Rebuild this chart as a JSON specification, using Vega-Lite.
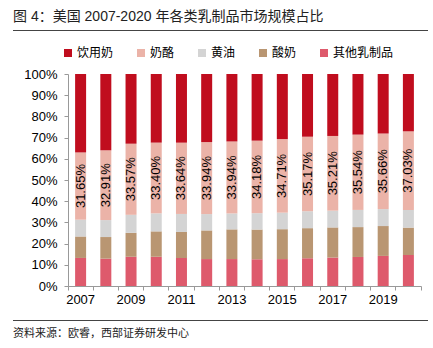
{
  "$schema": "https://vega.github.io/schema/vega-lite/v6.json",
  "autosize": "pad",
  "padding": {"left": 13, "top": 10, "right": 5, "bottom": 5},
  "bounds": "flush",
  "spacing": 34,
  "config": {
    "font": "'Liberation Sans', 'Noto Sans CJK SC', sans-serif",
    "view": {"stroke": null}
  },
  "vconcat": [
    {
      "width": 415,
      "height": 1,
      "view": {"fill": "#444", "stroke": null},
      "title": {"text": "图 4：美国 2007-2020 年各类乳制品市场规模占比", "anchor": "start", "frame": "group", "fontSize": 14, "fontWeight": "normal", "color": "#222", "offset": 6},
      "data": {"values": []},
      "mark": "point"
    },
    {
      "width": 415,
      "height": 221,
      "data": {
        "values": [
          {"year": 2007, "cat": "其他乳制品", "v": 0.132}, {"year": 2007, "cat": "酸奶", "v": 0.101}, {"year": 2007, "cat": "黄油", "v": 0.079}, {"year": 2007, "cat": "奶酪", "v": 0.3165}, {"year": 2007, "cat": "饮用奶", "v": 0.369},
          {"year": 2008, "cat": "其他乳制品", "v": 0.129}, {"year": 2008, "cat": "酸奶", "v": 0.102}, {"year": 2008, "cat": "黄油", "v": 0.080}, {"year": 2008, "cat": "奶酪", "v": 0.3291}, {"year": 2008, "cat": "饮用奶", "v": 0.360},
          {"year": 2009, "cat": "其他乳制品", "v": 0.138}, {"year": 2009, "cat": "酸奶", "v": 0.113}, {"year": 2009, "cat": "黄油", "v": 0.085}, {"year": 2009, "cat": "奶酪", "v": 0.3357}, {"year": 2009, "cat": "饮用奶", "v": 0.329},
          {"year": 2010, "cat": "其他乳制品", "v": 0.138}, {"year": 2010, "cat": "酸奶", "v": 0.120}, {"year": 2010, "cat": "黄油", "v": 0.085}, {"year": 2010, "cat": "奶酪", "v": 0.3340}, {"year": 2010, "cat": "饮用奶", "v": 0.324},
          {"year": 2011, "cat": "其他乳制品", "v": 0.132}, {"year": 2011, "cat": "酸奶", "v": 0.123}, {"year": 2011, "cat": "黄油", "v": 0.085}, {"year": 2011, "cat": "奶酪", "v": 0.3364}, {"year": 2011, "cat": "饮用奶", "v": 0.324},
          {"year": 2012, "cat": "其他乳制品", "v": 0.127}, {"year": 2012, "cat": "酸奶", "v": 0.135}, {"year": 2012, "cat": "黄油", "v": 0.077}, {"year": 2012, "cat": "奶酪", "v": 0.3394}, {"year": 2012, "cat": "饮用奶", "v": 0.321},
          {"year": 2013, "cat": "其他乳制品", "v": 0.127}, {"year": 2013, "cat": "酸奶", "v": 0.140}, {"year": 2013, "cat": "黄油", "v": 0.075}, {"year": 2013, "cat": "奶酪", "v": 0.3394}, {"year": 2013, "cat": "饮用奶", "v": 0.318},
          {"year": 2014, "cat": "其他乳制品", "v": 0.126}, {"year": 2014, "cat": "酸奶", "v": 0.140}, {"year": 2014, "cat": "黄油", "v": 0.077}, {"year": 2014, "cat": "奶酪", "v": 0.3418}, {"year": 2014, "cat": "饮用奶", "v": 0.314},
          {"year": 2015, "cat": "其他乳制品", "v": 0.127}, {"year": 2015, "cat": "酸奶", "v": 0.141}, {"year": 2015, "cat": "黄油", "v": 0.078}, {"year": 2015, "cat": "奶酪", "v": 0.3471}, {"year": 2015, "cat": "饮用奶", "v": 0.307},
          {"year": 2016, "cat": "其他乳制品", "v": 0.131}, {"year": 2016, "cat": "酸奶", "v": 0.142}, {"year": 2016, "cat": "黄油", "v": 0.080}, {"year": 2016, "cat": "奶酪", "v": 0.3517}, {"year": 2016, "cat": "饮用奶", "v": 0.296},
          {"year": 2017, "cat": "其他乳制品", "v": 0.134}, {"year": 2017, "cat": "酸奶", "v": 0.142}, {"year": 2017, "cat": "黄油", "v": 0.079}, {"year": 2017, "cat": "奶酪", "v": 0.3521}, {"year": 2017, "cat": "饮用奶", "v": 0.292},
          {"year": 2018, "cat": "其他乳制品", "v": 0.137}, {"year": 2018, "cat": "酸奶", "v": 0.141}, {"year": 2018, "cat": "黄油", "v": 0.081}, {"year": 2018, "cat": "奶酪", "v": 0.3554}, {"year": 2018, "cat": "饮用奶", "v": 0.286},
          {"year": 2019, "cat": "其他乳制品", "v": 0.142}, {"year": 2019, "cat": "酸奶", "v": 0.141}, {"year": 2019, "cat": "黄油", "v": 0.080}, {"year": 2019, "cat": "奶酪", "v": 0.3566}, {"year": 2019, "cat": "饮用奶", "v": 0.281},
          {"year": 2020, "cat": "其他乳制品", "v": 0.146}, {"year": 2020, "cat": "酸奶", "v": 0.129}, {"year": 2020, "cat": "黄油", "v": 0.083}, {"year": 2020, "cat": "奶酪", "v": 0.3703}, {"year": 2020, "cat": "饮用奶", "v": 0.270}
        ]
      },
      "transform": [
        {"window": [{"op": "row_number", "as": "r"}], "groupby": ["year"]}
      ],
      "encoding": {
        "x": {
          "field": "year",
          "type": "ordinal",
          "scale": {"range": [55, 408], "paddingInner": 0, "paddingOuter": 0},
          "axis": {
            "title": null,
            "bandPosition": 1,
            "tickExtra": true,
            "labelDx": -12.6,
            "labelExpr": "datum.value % 2 == 1 ? datum.label : ''",
            "labelAngle": 0,
            "domainColor": "#999",
            "tickColor": "#999",
            "tickSize": 4,
            "labelFontSize": 13,
            "labelColor": "#000",
            "labelPadding": 3
          }
        },
        "y": {
          "field": "v",
          "type": "quantitative",
          "stack": "normalize",
          "scale": {"range": [221, 9]},
          "axis": {
            "title": null,
            "offset": -55,
            "values": [0, 0.1, 0.2, 0.3, 0.4, 0.5, 0.6, 0.7, 0.8, 0.9, 1],
            "format": ".0%",
            "grid": false,
            "domainColor": "#999",
            "tickColor": "#999",
            "tickSize": 4,
            "labelPadding": 7,
            "labelFontSize": 13,
            "labelColor": "#000"
          }
        },
        "order": {"field": "r", "type": "quantitative", "sort": "ascending"},
        "color": {
          "field": "cat",
          "type": "nominal",
          "sort": ["饮用奶", "奶酪", "黄油", "酸奶", "其他乳制品"],
          "scale": {
            "domain": ["饮用奶", "奶酪", "黄油", "酸奶", "其他乳制品"],
            "range": ["#C00D1E", "#EBB3A8", "#D4D4D4", "#B99672", "#DE5A6C"]
          },
          "legend": {
            "title": null,
            "orient": "none",
            "legendX": 49,
            "legendY": 17,
            "direction": "horizontal",
            "symbolType": "square",
            "symbolSize": 64,
            "symbolStrokeWidth": 0,
            "labelFontSize": 12,
            "labelColor": "#000",
            "columnPadding": 21,
            "labelOffset": 3
          }
        }
      },
      "layer": [
        {"mark": {"type": "bar", "width": 11}},
        {
          "mark": {"type": "text", "angle": 270, "fontSize": 13, "baseline": "middle", "align": "center"},
          "encoding": {
            "y": {"field": "v", "type": "quantitative", "stack": "normalize", "bandPosition": 0.5},
            "fill": {"value": "#000"},
            "text": {
              "condition": {"test": "datum.cat === '奶酪'", "field": "v", "type": "quantitative", "format": ".2%"},
              "value": ""
            }
          }
        }
      ]
    },
    {
      "width": 415,
      "height": 1,
      "view": {"fill": "#444", "stroke": null},
      "title": {"text": "资料来源：欧睿，西部证券研发中心", "orient": "bottom", "anchor": "start", "frame": "group", "fontSize": 11, "fontWeight": "normal", "color": "#222", "offset": 7},
      "data": {"values": []},
      "mark": "point"
    }
  ]
}
